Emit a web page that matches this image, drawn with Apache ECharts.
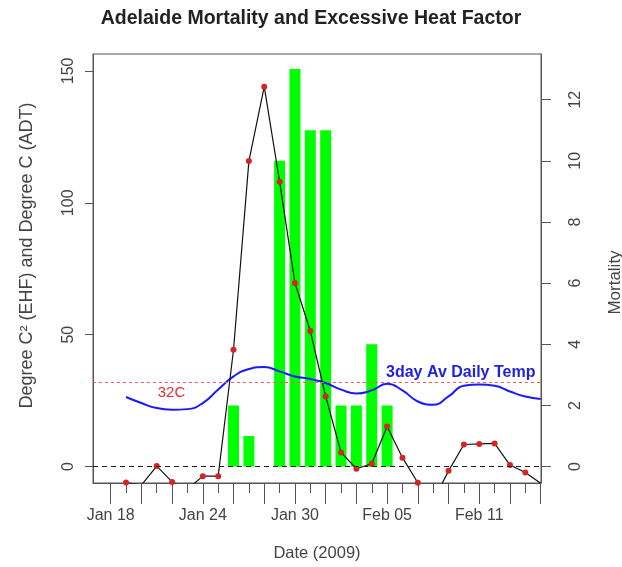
<!DOCTYPE html>
<html>
<head>
<meta charset="utf-8">
<script src="https://cdn.jsdelivr.net/npm/echarts@6/dist/echarts.min.js"></script>
<style>html,body{margin:0;padding:0;background:#fff}#c{width:622px;height:567px}</style>
</head>
<body>
<div id="c"></div>
<script>
// ---- data ----
const dates = ['2009-01-19','2009-01-20','2009-01-21','2009-01-22','2009-01-23','2009-01-24','2009-01-25',
  '2009-01-26','2009-01-27','2009-01-28','2009-01-29','2009-01-30','2009-01-31','2009-02-01',
  '2009-02-02','2009-02-03','2009-02-04','2009-02-05','2009-02-06','2009-02-07','2009-02-08',
  '2009-02-09','2009-02-10','2009-02-11','2009-02-12','2009-02-13','2009-02-14','2009-02-15'];
const ehf = [-6.0,-7.0,0.2,-5.8,-8.5,-3.6,-3.6,
  44.3,115.8,144.0,108.0,69.6,51.4,26.6,
  5.4,-0.8,1.1,15.2,3.4,-6.1,-13.0,
  -1.6,8.4,8.6,8.8,0.6,-2.2,-6.3];
const adt = [26.4,24.1,22.2,21.6,21.8,24.1,29.2,
  34.2,37.0,37.8,36.1,34.2,33.2,31.7,
  29.2,27.7,28.9,31.4,28.9,24.7,23.5,
  26.6,30.7,31.1,30.7,28.5,26.6,25.6];
const mortality = [0,0,0,0,0,0,0,
  2,1,0,10,13,11,11,
  2,2,4,2,0,0,0,
  0,0,0,0,0,0,0];
const threshold = 32;
const xTickDates = ['2009-01-18','2009-01-24','2009-01-30','2009-02-05','2009-02-11'];
const xTickLabels = ['Jan 18','Jan 24','Jan 30','Feb 05','Feb 11'];
const leftTicks = [0,50,100,150];
const rightTicks = [0,2,4,6,8,10,12];

// ---- helpers ----
const base = Date.UTC(2009,0,18);
const dayOf = s => (Date.parse(s) - base) / 86400000;
const xs = dates.map(dayOf);
const labelDays = xTickDates.map(dayOf);
const longTicks = [], shortTicks = [];
for (let d = 0; d <= 28; d++) (d % 2 === 0 ? longTicks : shortTicks).push(d);

const leftMin = -6.2, leftMax = 156.4, ratio = 11.59;
const txt = '#444', ax = '#555';
const font = 'Liberation Sans, Arial, sans-serif';

const chart = echarts.init(document.getElementById('c'), null, {renderer: 'canvas'});
chart.setOption({
  animation: false,
  backgroundColor: '#fff',
  title: {
    text: 'Adelaide Mortality and Excessive Heat Factor',
    left: 'center', top: 4,
    textStyle: {fontFamily: font, fontSize: 19.5, fontWeight: 'bold', color: '#222'}
  },
  grid: {left: 93, right: 81, top: 54, bottom: 84, show: true, borderColor: ax, borderWidth: 1,
    backgroundColor: 'transparent', outerBoundsMode: 'none', containLabel: false},
  xAxis: [{
    type: 'value', min: -1.15, max: 28.02,
    name: 'Date (2009)', nameLocation: 'middle', nameGap: 62,
    nameTextStyle: {fontFamily: font, fontSize: 16.5, color: txt},
    axisLine: {show: true, onZero: false, lineStyle: {color: ax}},
    axisTick: {show: true, customValues: longTicks, length: 21, lineStyle: {color: ax}},
    axisLabel: {show: true, customValues: labelDays, margin: 24.5, fontFamily: font, fontSize: 16, color: txt,
      formatter: v => { const i = labelDays.indexOf(v); return i >= 0 ? xTickLabels[i] : ''; }},
    splitLine: {show: false}
  }, {
    type: 'value', min: -1.15, max: 28.02, position: 'bottom',
    axisLine: {show: false, onZero: false},
    axisTick: {show: true, customValues: shortTicks, length: 10, lineStyle: {color: ax}},
    axisLabel: {show: false},
    splitLine: {show: false}
  }],
  yAxis: [{
    type: 'value', min: leftMin, max: leftMax, position: 'left',
    name: 'Degree C\u00B2 (EHF) and Degree C (ADT)', nameLocation: 'middle', nameGap: 57, nameRotate: 90,
    nameTextStyle: {fontFamily: font, fontSize: 18, color: txt, padding: [0, 0, 0, 26]},
    axisLine: {show: true, onZero: false, lineStyle: {color: ax}},
    axisTick: {show: true, customValues: leftTicks, length: 8, lineStyle: {color: ax}},
    axisLabel: {show: true, customValues: leftTicks, rotate: 90, margin: 16.5, fontFamily: font, fontSize: 16, color: txt},
    splitLine: {show: false}
  }, {
    type: 'value', min: leftMin / ratio, max: leftMax / ratio, position: 'right',
    name: 'Mortality', nameLocation: 'middle', nameGap: 65.5, nameRotate: 90,
    nameTextStyle: {fontFamily: font, fontSize: 17, color: txt, padding: [0, 28, 0, 0]},
    axisLine: {show: true, onZero: false, lineStyle: {color: ax}},
    axisTick: {show: true, customValues: rightTicks, length: 10, lineStyle: {color: ax}},
    axisLabel: {show: true, customValues: rightTicks, rotate: 90, margin: 27, fontFamily: font, fontSize: 16, color: txt},
    splitLine: {show: false}
  }],
  series: [{
    name: 'Mortality', type: 'bar', xAxisIndex: 0, yAxisIndex: 1,
    data: xs.map((x, i) => [x, mortality[i]]),
    barWidth: 11, itemStyle: {color: '#00ff00'}, z: 1
  }, {
    name: 'ADT', type: 'line', xAxisIndex: 0, yAxisIndex: 0,
    data: xs.map((x, i) => [x, adt[i]]),
    smooth: 0.5, showSymbol: false, symbol: 'none',
    lineStyle: {color: '#1a1aff', width: 2}, z: 3,
    markLine: {
      silent: true, symbol: ['none','none'], label: {show: false},
      data: [
        {yAxis: threshold, lineStyle: {color: '#e86060', type: [3,3], width: 1}},
        {yAxis: 0, lineStyle: {color: '#222', type: [5,4], width: 1}}
      ]
    },
    markPoint: {
      silent: true, symbol: 'circle', symbolSize: 0,
      data: [
        {coord: [3.96, 28.0], label: {show: true, position: 'inside', formatter: threshold + 'C',
          fontFamily: font, fontSize: 15, color: '#e03030'}},
        {coord: [17.93, 35.6], label: {show: true, position: 'inside', align: 'left', formatter: '3day Av Daily Temp',
          fontFamily: font, fontSize: 16, fontWeight: 'bold', color: '#2222dd'}}
      ]
    }
  }, {
    name: 'EHF', type: 'line', xAxisIndex: 0, yAxisIndex: 0,
    data: xs.map((x, i) => [x, ehf[i]]),
    clip: true, symbol: 'circle', symbolSize: 6, showSymbol: true,
    lineStyle: {color: '#111', width: 1.2},
    itemStyle: {color: '#d42424', borderWidth: 0}, z: 4
  }]
});
</script>
</body>
</html>
